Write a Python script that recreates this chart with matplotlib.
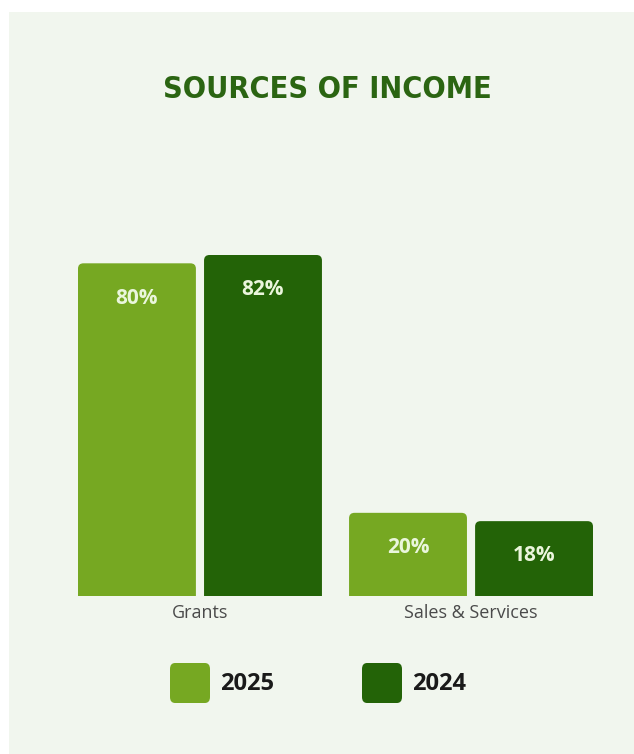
import matplotlib.pyplot as plt
from matplotlib.patches import FancyBboxPatch, Rectangle
import numpy as np

# datos
categorias = ['Grants', 'Sales & Services']
series = ['2025', '2024']
valores_2025 = [80, 20]
valores_2024 = [82, 18]
colores = ['#76a822', '#236307']

W, H = 634, 754
fig = plt.figure(figsize=(W / 100, H / 100), dpi=100)
fig.patch.set_facecolor('white')

# panel de fondo
fig.patches.append(Rectangle((9 / W, 0), 1, 1 - 12 / H, transform=fig.transFigure,
                             facecolor='#f1f6ee', edgecolor='none', zorder=-5))

fig.text(327 / W, 1 - 90 / H, 'SOURCES OF INCOME', ha='center', va='center',
         fontsize=22, color='#2b6512', family='DejaVu Sans', fontweight='bold',
         fontstretch='condensed')

ax = fig.add_axes([78 / W, 1 - 596 / H, (593 - 78) / W, 341 / H])
ax.set_facecolor('none')
ax.set_zorder(2)

x = np.arange(len(categorias))
ancho = 0.435
desp = 0.2325
for i, (serie, vals) in enumerate(zip(series, [valores_2025, valores_2024])):
    pos = x + (desp if i else -desp)
    bars = ax.bar(pos, vals, width=ancho, color=colores[i])
    for bar, v in zip(bars, vals):
        # esquinas redondeadas
        bar.set_visible(False)
        redondo = FancyBboxPatch((bar.get_x(), -2), bar.get_width(), bar.get_height() + 2,
                                 boxstyle='round,pad=0,rounding_size=0.02',
                                 mutation_aspect=65, facecolor=colores[i], edgecolor='none')
        ax.add_patch(redondo)
        ax.annotate(f'{v}%', (bar.get_x() + bar.get_width() / 2, bar.get_height()),
                    xytext=(0, -25), textcoords='offset points', ha='center', va='center',
                    fontsize=15, fontweight='bold', color='#eaf6dc', family='Open Sans')

ax.set_xlim(-0.45, 1.45)
ax.set_ylim(0, 82)
ax.set_xticks(x)
ax.set_xticklabels(categorias, fontsize=13, color='#4a4a4a', family='Open Sans')
ax.tick_params(axis='x', length=0, pad=6)
ax.set_yticks([])
for s in ax.spines.values():
    s.set_visible(False)

# leyenda
leg_x = [170, 362]
for i, serie in enumerate(series):
    fig.patches.append(FancyBboxPatch((leg_x[i] / W, 1 - 703 / H), 40 / W, 40 / H,
                                      boxstyle='round,pad=0,rounding_size=0.008',
                                      transform=fig.transFigure, facecolor=colores[i],
                                      edgecolor='none'))
    fig.text((leg_x[i] + 50) / W, 1 - 684 / H, serie, ha='left', va='center',
             fontsize=17, fontweight='bold', color='#1a1a1a', family='Open Sans')

plt.savefig('out.png', dpi=100)
plt.close()
